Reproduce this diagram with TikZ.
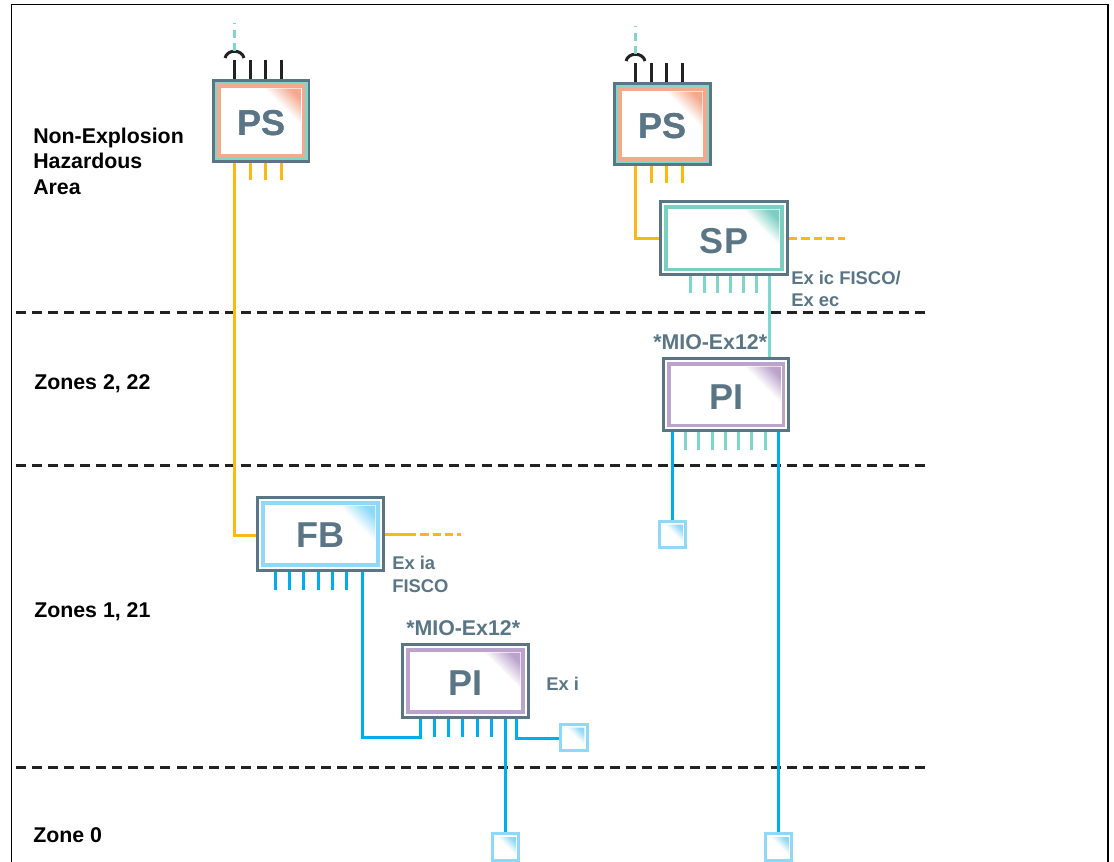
\documentclass[tikz,border=0pt]{standalone}
\usepackage{fontspec}
\setmainfont{Liberation Sans}
\usetikzlibrary{calc}
\definecolor{slate}{HTML}{5A7686}
\definecolor{tealc}{HTML}{7FD6CB}
\definecolor{tealb}{HTML}{7ACFC2}
\definecolor{orangec}{HTML}{FDB913}
\definecolor{bluec}{HTML}{00AEEF}
\definecolor{lightb}{HTML}{8FD9F8}
\definecolor{salmon}{HTML}{F4A98F}
\definecolor{purp}{HTML}{BBA3CD}
\definecolor{ink}{HTML}{222222}
\tikzset{
  x=0.75pt,y=-0.75pt,
  devbox/.style={draw=slate,line width=2.6pt,fill=white,inner sep=0pt,rectangle},
  devtext/.style={text=slate,font=\bfseries\fontsize{27}{27}\selectfont,inner sep=0pt,anchor=base},
  smallbox/.style={draw=lightb,line width=2.25pt,fill=white,inner sep=0pt,rectangle,minimum width=20pt,minimum height=20pt},
  zonetext/.style={text=black,font=\bfseries\fontsize{16}{16}\selectfont,anchor=base west,inner sep=0pt},
  extext/.style={text=slate,font=\bfseries\fontsize{13.8}{14}\selectfont,anchor=base west,inner sep=0pt},
  miotext/.style={text=slate,font=\bfseries\fontsize{16}{16}\selectfont,anchor=base west,inner sep=0pt},
  zoneline/.style={draw=ink,line width=2.25pt,dash pattern=on 7.5pt off 4.54pt},
  orangeline/.style={draw=orangec,line width=2.25pt},
  orangedash/.style={draw=orangec,line width=2.25pt,dash pattern=on 6.2pt off 3pt},
  tealline/.style={draw=tealc,line width=2.25pt},
  tealdash/.style={draw=tealc,line width=2.25pt,dash pattern=on 6pt off 4pt},
  blueline/.style={draw=bluec,line width=2.25pt},
  blackline/.style={draw=ink,line width=2.25pt},
}
% name, left, top, right, bottom, colour, label, inset of colour frame, label baseline
\newcommand\devbody[9]{%
  \node[devbox,minimum width={(#4-#2-3.5)*0.75pt},minimum height={(#5-#3-3.5)*0.75pt}] (#1) at ({(#2+#4)/2},{(#3+#5)/2}) {};
  \draw[#6,line width=2.6pt] ($(#1.north west)+(#8,#8)$) rectangle ($(#1.south east)+(-#8,-#8)$);
  \shade[top color=#6,bottom color=white,middle color=white,shading angle=-45]
     ($(#1.north east)+(-9.5,9.5)$) -- ++(-37,0) -- ++(37,37) -- cycle;
  \node[devtext] (#1t) at ({(#2+#4)/2},#9) {#7};
}
\newcommand\smallb[3]{%
  \node[smallbox] (#1) at (#2,#3) {};
  \shade[top color=lightb,bottom color=white,middle color=white,shading angle=-45]
     ($(#1.north east)+(-4.5,5)$) -- ++(-18,0) -- ++(18,18) -- cycle;
}
\newcommand\pstop[1]{%
  \foreach \dx in {22.5,38.5,53.5,69.5}{\draw[blackline] ($(#1.north west)+(\dx,-19)$) -- ($(#1.north west)+(\dx,0)$);}
  \draw[blackline] ($(#1.north west)+(13,-21)$) .. controls ($(#1.north west)+(15,-30)$) and ($(#1.north west)+(30,-30)$) .. ($(#1.north west)+(32,-21)$);
  \draw[tealdash] ($(#1.north west)+(22.5,-28)$) -- ($(#1.north west)+(22.5,-56)$);
  \foreach \dx in {38.5,53.5,69.5}{\draw[orangeline] ($(#1.south west)+(\dx,0)$) -- ($(#1.south west)+(\dx,17)$);}
}
\begin{document}
\begin{tikzpicture}
\useasboundingbox (0,0) rectangle (1114,861);
\begin{scope}
\clip (0,0) rectangle (1114,861);
\fill[white] (0,0) rectangle (1114,861);
\coordinate (frameA) at (11.5,870);
\coordinate (frameB) at (11.5,4.5);
\coordinate (frameC) at (1108,4.5);
\coordinate (frameD) at (1108,870);
\draw[black,line width=0.9pt] (frameA) -- (frameB) -- (frameC) -- (frameD);

% zone separators
\foreach \yy in {312,465,767}{
  \coordinate (zl\yy) at (16,\yy+0.5);
  \coordinate (zr\yy) at (925,\yy+0.5);
  \draw[zoneline] (zl\yy) -- (zr\yy);
}

% devices
\devbody{psA}{212}{79}{310.5}{163}{salmon}{PS}{7}{135}
\draw[tealc,line width=1.9pt] ($(psA.north west)+(4.2,4.2)$) rectangle ($(psA.south east)+(-4.2,-4.2)$);
\node[devtext] at (psAt.base) {PS};
\devbody{psB}{613}{82}{712}{166}{salmon}{PS}{7}{138}
\draw[tealc,line width=1.9pt] ($(psB.north west)+(4.2,4.2)$) rectangle ($(psB.south east)+(-4.2,-4.2)$);
\node[devtext] at (psBt.base) {PS};
\devbody{sp}{659}{200}{789}{276.5}{tealb}{SP}{7}{253}
\devbody{piA}{662}{357}{790.5}{432.5}{purp}{PI}{7}{409}
\devbody{fb}{256}{496}{385}{572}{lightb}{FB}{7}{547}
\devbody{piB}{401}{643}{530}{719}{purp}{PI}{7}{695}
\smallb{sA}{672.5}{534.5}
\smallb{sB}{778.5}{847}
\smallb{sC}{574}{737.5}
\smallb{sD}{505.5}{847}

\pstop{psA}
\pstop{psB}

% PS to FB
\coordinate (bendA) at (234.5,535.5);
\draw[orangeline] (psA.south -| bendA) -- (bendA) -- (bendA -| fb.west);
% PS to SP
\coordinate (bendB) at (635.5,238.5);
\draw[orangeline] (psB.south -| bendB) -- (bendB) -- (bendB -| sp.west);
% SP output
\coordinate (spEnd) at (845,238.5);
\draw[orangedash] (sp.east |- spEnd) -- (spEnd);
% FB output
\coordinate (fbMid) at (408,534.5);
\coordinate (fbEnd) at (461,534.5);
\draw[orangeline] (fb.east |- fbMid) -- (fbMid);
\draw[orangedash] (fbMid) -- (fbEnd);

% SP stubs and trunk
\foreach \xx in {690.5,704.5,717.5,730.5,743.5,756.5}{
  \coordinate (t) at (\xx,293);
  \draw[tealline] (sp.south -| t) -- (t);
}
\coordinate (tSP) at (769.5,300);
\draw[tealline] (sp.south -| tSP) -- (piA.north -| tSP);

% upper PI
\foreach \xx in {685.5,698.5,712.5,725.5,738.5,751.5,765.5}{
  \coordinate (t) at (\xx,450);
  \draw[tealline] (piA.south -| t) -- (t);
}
\draw[blueline] (piA.south -| sA) -- (sA.north);
\draw[blueline] (piA.south -| sB) -- (sB.north);

% FB stubs and trunk to lower PI
\foreach \xx in {275.5,289.5,303.5,318.5,332.5,346.5}{
  \coordinate (t) at (\xx,590);
  \draw[blueline] (fb.south -| t) -- (t);
}
\coordinate (bendC) at (362.5,737.5);
\coordinate (bendD) at (420.5,737.5);
\draw[blueline] (fb.south -| bendC) -- (bendC) -- (bendD) -- (piB.south -| bendD);

% lower PI
\foreach \xx in {434.5,448.5,462.5,477.5,491.5}{
  \coordinate (t) at (\xx,737);
  \draw[blueline] (piB.south -| t) -- (t);
}
\draw[blueline] (piB.south -| sD) -- (sD.north);
\coordinate (bendE) at (516.5,738.5);
\draw[blueline] (piB.south -| bendE) -- (bendE) -- (bendE -| sC.west);

% labels
\node[zonetext] (l1) at (33,143) {Non-Explosion};
\node[zonetext] (l2) at (33,168) {Hazardous};
\node[zonetext] (l3) at (33,194) {Area};
\node[zonetext] (l4) at (34,389) {Zones 2, 22};
\node[zonetext] (l5) at (34,617) {Zones 1, 21};
\node[zonetext] (l6) at (33,842) {Zone 0};
\node[extext] (e1) at (791,284) {Ex ic FISCO/};
\node[extext] (e2) at (791,306) {Ex ec};
\node[extext] (e3) at (392,569) {Ex ia};
\node[extext] (e4) at (392,592) {FISCO};
\node[extext] (e5) at (546,690) {Ex i};
\node[miotext] (m1) at (653,349) {*MIO-Ex12*};
\node[miotext] (m2) at (406,635) {*MIO-Ex12*};
\end{scope}
\end{tikzpicture}
\end{document}
